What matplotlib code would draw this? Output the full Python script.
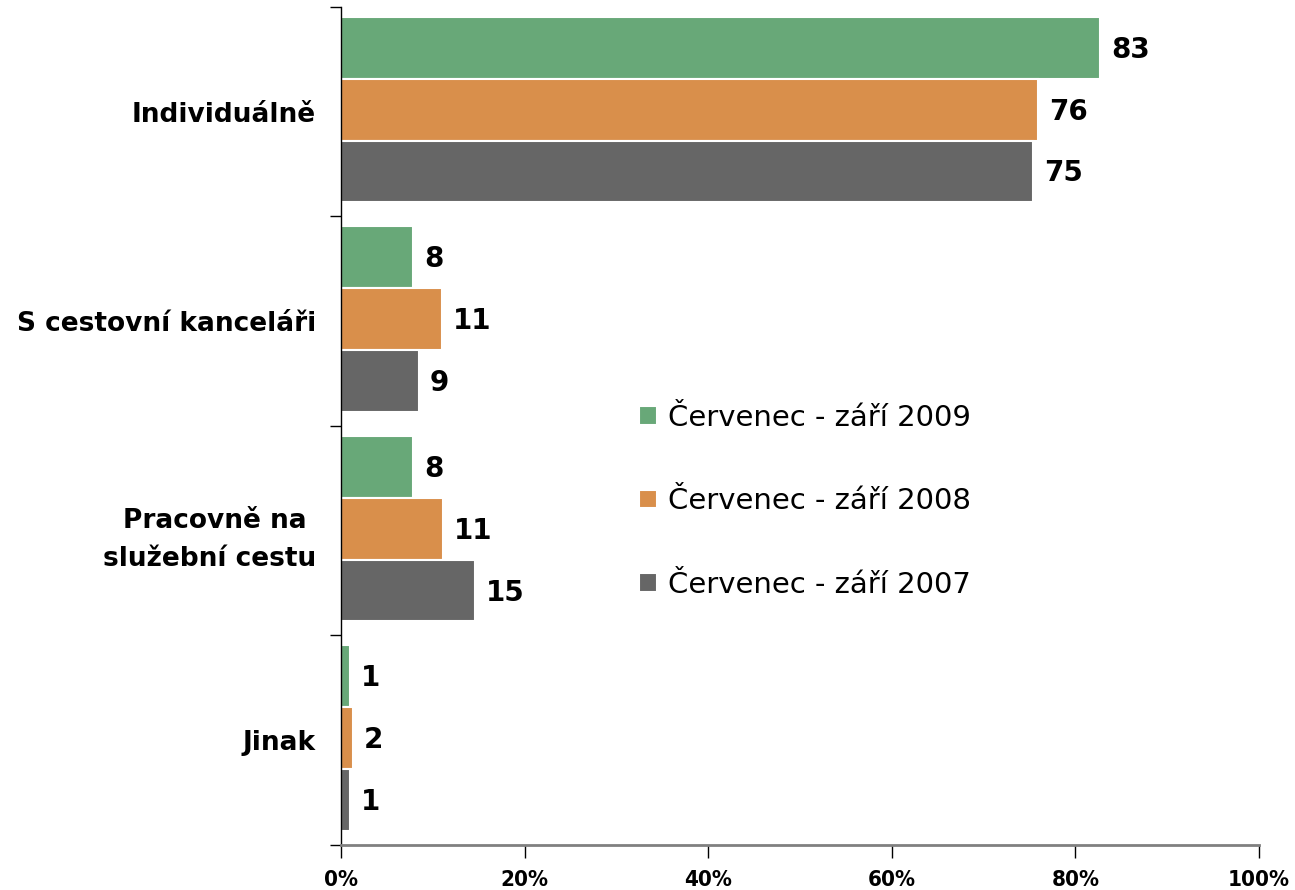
import numpy as np
import matplotlib.pyplot as plt

categories = ["Individuálně", "S cestovní kanceláři", "Pracovně na \nslužební cestu", "Jinak"]
series = ["Červenec - září 2009", "Červenec - září 2008", "Červenec - září 2007"]
v2009 = [82.7, 7.9, 7.9, 1.0]
v2008 = [75.9, 11.0, 11.1, 1.3]
v2007 = [75.4, 8.5, 14.6, 1.0]
lab2009 = [83, 8, 8, 1]
lab2008 = [76, 11, 11, 2]
lab2007 = [75, 9, 15, 1]
colors = ["#68a878", "#d98f4b", "#666666"]

fig = plt.figure(figsize=(12.95, 8.9), dpi=100)
ax = fig.add_axes([0.2633, 0.0506, 0.7089, 0.9416])

y = np.arange(len(categories))
h = 0.295
offsets = [-h, 0, h]
for vals, labs, off, col, name in zip([v2009, v2008, v2007], [lab2009, lab2008, lab2007],
                                      offsets, colors, series):
    ax.barh(y + off - 0.01, vals, height=h, color=col, edgecolor="white", linewidth=1.5, label=name)
    for yi, v, l in zip(y, vals, labs):
        ax.text(v + 1.2, yi + off, str(l), va="center", ha="left",
                fontsize=20, fontweight="bold")

ax.set_xlim(0, 100)
ax.set_ylim(3.5, -0.5)
ax.set_xticks(np.arange(0, 101, 20))
ax.set_xticklabels([f"{t}%" for t in range(0, 101, 20)], fontsize=16, fontweight="bold",
                   fontstretch="condensed")
ax.set_yticks(y)
ax.set_yticklabels(categories, fontsize=19, fontweight="bold", linespacing=1.6)
ax.set_yticks(np.arange(-0.5, 3.6, 1), minor=True)
ax.tick_params(axis="y", which="major", length=0, pad=18)
ax.tick_params(axis="y", which="minor", length=8, width=1, direction="out")
ax.tick_params(axis="x", length=9, width=1, direction="out", pad=9)
for s in ["top", "right"]:
    ax.spines[s].set_visible(False)
ax.spines["bottom"].set_color("#808080")
ax.spines["bottom"].set_linewidth(2)
ax.spines["left"].set_linewidth(1)

ax.legend(loc="center left", bbox_to_anchor=(0.309, 0.41), frameon=False, fontsize=21,
          borderpad=0, handlelength=0.6, handleheight=0.6, handletextpad=0.4,
          labelspacing=1.9)

fig.savefig("out.png", dpi=100)
